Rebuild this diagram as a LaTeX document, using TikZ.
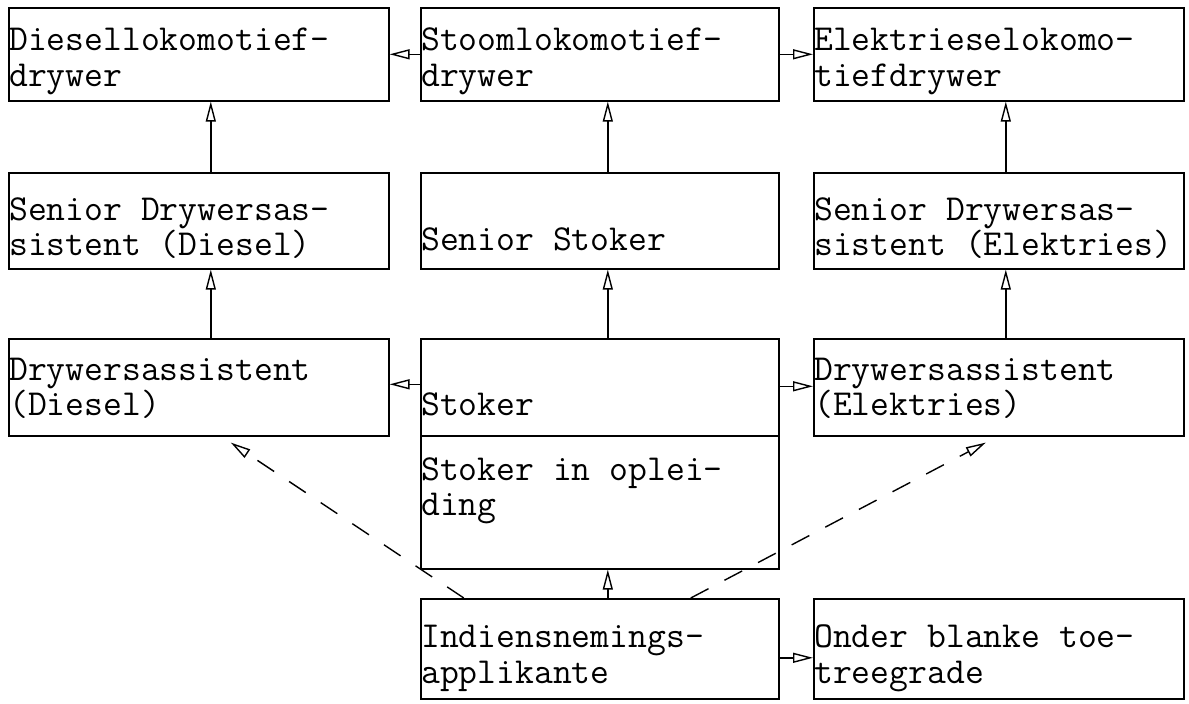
\documentclass[tikz,border=0pt]{standalone}
\usepackage{fontspec}
\usetikzlibrary{arrows.meta}
\begin{document}
\begin{tikzpicture}[x=1pt,y=-1pt,
  box/.style={draw, line width=1.6pt, inner sep=0pt, anchor=north west},
  txt/.style={anchor=base west, inner sep=0pt, font=\ttfamily\fontsize{36.6}{36}\selectfont},
  arr/.style={line width=1.4pt, -{Triangle[open, length=20pt, width=10pt, line width=1.4pt]}},
  dsh/.style={arr, dash pattern=on 20pt off 18pt}
]
\useasboundingbox (0,0) rectangle (1189,704);
% boxes
\node[box, minimum width=380pt, minimum height=93pt] (dd) at (8,7) {};
\node[box, minimum width=358pt, minimum height=93pt] (st) at (420,7) {};
\node[box, minimum width=370pt, minimum height=93pt] (ed) at (813,7) {};
\node[box, minimum width=380pt, minimum height=96pt] (sd) at (8,172) {};
\node[box, minimum width=358pt, minimum height=96pt] (ss) at (420,172) {};
\node[box, minimum width=370pt, minimum height=96pt] (se) at (813,172) {};
\node[box, minimum width=380pt, minimum height=97pt] (dad) at (8,338) {};
\node[box, minimum width=358pt, minimum height=97pt] (sk) at (420,338) {};
\node[box, minimum width=370pt, minimum height=97pt] (dae) at (813,338) {};
\node[box, minimum width=358pt, minimum height=133pt] (so) at (420,435) {};
\node[box, minimum width=358pt, minimum height=100pt] (ind) at (420,598) {};
\node[box, minimum width=370pt, minimum height=100pt] (ob) at (813,598) {};
% texts
\node[txt] (dd1) at (9,50) {Diesellokomotief-};
\node[txt] (dd2) at (9,86) {drywer};
\node[txt] (st1) at (421,50) {Stoomlokomotief-};
\node[txt] (st2) at (421,86) {drywer};
\node[txt] (ed1) at (814,50) {Elektrieselokomo-};
\node[txt] (ed2) at (814,86) {tiefdrywer};
\node[txt] (sd1) at (9,220) {Senior Drywersas-};
\node[txt] (sd2) at (9,255) {sistent (Diesel)};
\node[txt] (ss1) at (421,250) {Senior Stoker};
\node[txt] (se1) at (814,220) {Senior Drywersas-};
\node[txt] (se2) at (814,255) {sistent (Elektries)};
\node[txt] (dad1) at (9,380) {Drywersassistent};
\node[txt] (dad2) at (9,415) {(Diesel)};
\node[txt] (sk1) at (421,415) {Stoker};
\node[txt] (dae1) at (814,380) {Drywersassistent};
\node[txt] (dae2) at (814,415) {(Elektries)};
\node[txt] (so1) at (421,480) {Stoker in oplei-};
\node[txt] (so2) at (421,515) {ding};
\node[txt] (ind1) at (421,647) {Indiensnemings-};
\node[txt] (ind2) at (421,683) {applikante};
\node[txt] (ob1) at (814,647) {Onder blanke toe-};
\node[txt] (ob2) at (814,683) {treegrade};
% connectors
\draw[arr] (st.west) -- (dd.east);
\draw[arr] (st.east) -- (ed.west);
\draw[arr] ([xshift=12pt]sd.north) -- ([xshift=12pt]dd.south);
\draw[arr] ([xshift=8pt]ss.north) -- ([xshift=8pt]st.south);
\draw[arr] ([xshift=7pt]se.north) -- ([xshift=7pt]ed.south);
\draw[arr] ([xshift=12pt]dad.north) -- ([xshift=12pt]sd.south);
\draw[arr] ([xshift=8pt]sk.north) -- ([xshift=8pt]ss.south);
\draw[arr] ([xshift=7pt]dae.north) -- ([xshift=7pt]se.south);
\draw[arr] ([yshift=3pt]sk.west) -- ([yshift=3pt]dad.east);
\draw[arr] ([yshift=1pt]sk.east) -- ([yshift=1pt]dae.west);
\draw[arr] ([xshift=8pt]ind.north) -- ([xshift=8pt]so.south);
\draw[arr] ([yshift=-9pt]ind.east) -- ([yshift=-9pt]ob.west);
\draw[dsh] ([xshift=-136pt]ind.north) -- ([xshift=32pt,yshift=-6pt]dad.south);
\draw[dsh] ([xshift=91pt]ind.north) -- ([xshift=-13pt,yshift=-6pt]dae.south);
\end{tikzpicture}
\end{document}
